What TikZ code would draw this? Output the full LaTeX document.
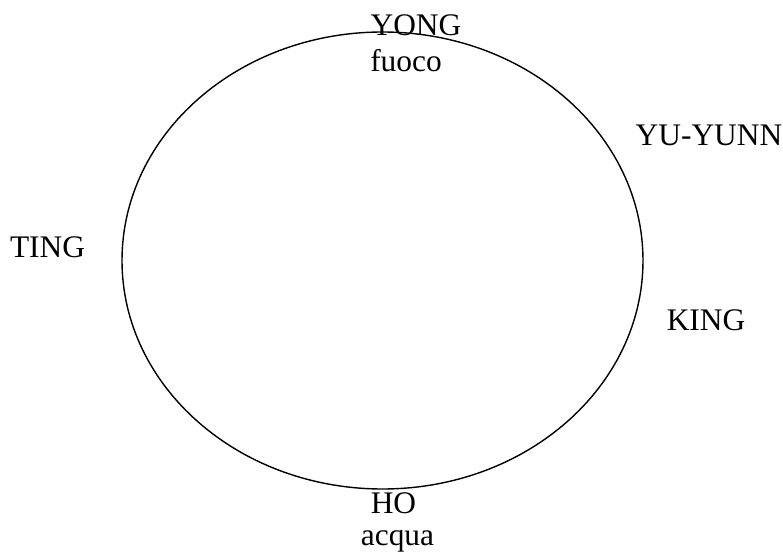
\documentclass[tikz,border=0pt]{standalone}
\usepackage{fontspec}
\setmainfont{Liberation Serif}
\usepackage{tikz}

\begin{document}
\begin{tikzpicture}[x=0.5pt,y=-0.5pt,line width=0.7pt]
\tikzset{lbl/.style={anchor=base,inner sep=0pt,font=\fontsize{15.7}{18}\selectfont}}
\useasboundingbox (0,0) rectangle (783,556);
\coordinate (c) at (382.5,260.5);
\draw (c) ellipse [x radius=260.5, y radius=228.5];
\node[lbl] (yong)  at (416,36)  {YONG};
\node[lbl] (fuoco) at (406,72)  {fuoco};
\node[lbl] (yuyunn) at (709,146) {YU-YUNN};
\node[lbl] (ting)  at (47.5,257) {TING};
\node[lbl] (king)  at (706,330) {KING};
\node[lbl] (ho)    at (393.5,513) {HO};
\node[lbl] (acqua) at (397.5,545) {acqua};
\end{tikzpicture}
\end{document}
